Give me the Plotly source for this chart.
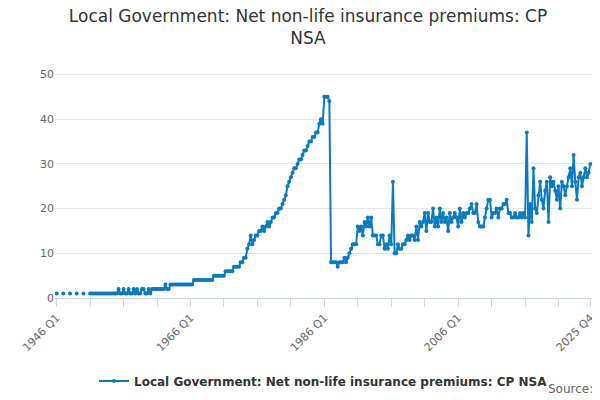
import plotly.graph_objects as go

years = list(range(1946, 2026))
quarters = ["Q1", "Q2", "Q3", "Q4"]

# quarterly values, one row per year (None = no data)
values = [
    1, None, None, None,  # 1946
    1, None, None, None,
    1, None, None, None,
    1, None, None, None,
    1, None, None, None,  # 1950
    1, 1, 1, 1,
    1, 1, 1, 1,
    1, 1, 1, 1,
    1, 1, 1, 1,
    1, 2, 1, 1,  # 1955
    2, 1, 1, 2,
    1, 1, 2, 1,
    2, 1, 1, 2,
    2, 1, 1, 2,
    1, 2, 2, 2,  # 1960
    2, 2, 2, 2,
    2, 3, 2, 2,
    3, 3, 3, 3,
    3, 3, 3, 3,
    3, 3, 3, 3,  # 1965
    3, 3, 4, 4,
    4, 4, 4, 4,
    4, 4, 4, 4,
    4, 4, 5, 5,
    5, 5, 5, 5,  # 1970
    5, 6, 6, 6,
    6, 6, 7, 7,
    7, 7, 8, 8,
    9, 9, 11, 12,
    14, 12, 13, 14,  # 1975
    14, 15, 15, 16,
    15, 16, 17, 16,
    17, 18, 18, 19,
    19, 20, 20, 21,
    22, 23, 25, 26,  # 1980
    27, 28, 29, 29,
    30, 31, 31, 32,
    33, 33, 34, 35,
    35, 36, 36, 37,
    37, 39, 40, 39,  # 1985
    45, 45, 45, 44,
    8, 8, 8, 8,
    7, 8, 8, 8,
    9, 8, 9, 10,
    11, 12, 12, 12,  # 1990
    16, 15, 16, 14,
    17, 16, 18, 16,
    18, 14, 14, 14,
    12, 12, 14, 14,
    11, 12, 11, 14,  # 1995
    12, 26, 10, 10,
    12, 11, 11, 12,
    12, 13, 14, 13,
    14, 14, 13, 16,
    13, 17, 16, 17,  # 2000
    19, 15, 19, 17,
    17, 20, 16, 18,
    16, 20, 17, 19,
    17, 18, 15, 19,
    17, 18, 19, 18,  # 2005
    16, 20, 17, 19,
    18, 19, 19, 20,
    21, 19, 19, 21,
    17, 16, 16, 16,
    18, 20, 22, 22,  # 2010
    18, 19, 19, 20,
    18, 20, 20, 21,
    21, 22, 19, 19,
    18, 18, 19, 18,
    18, 19, 18, 19,  # 2015
    18, 37, 14, 21,
    17, 29, 20, 19,
    23, 26, 22, 20,
    24, 26, 17, 27,
    25, 26, 24, 22,  # 2020
    25, 20, 26, 25,
    23, 25, 27, 29,
    25, 32, 26, 22,
    27, 28, 25, 27,
    29, 27, 28, 30,  # 2025
]

periods = [f"{y} {q}" for y in years for q in quarters]
tick_vals = [f"{y} Q1" for y in range(1946, 2026, 5)] + ["2025 Q4"]
labelled = ["1946 Q1", "1966 Q1", "1986 Q1", "2006 Q1", "2025 Q4"]
tick_text = [t if t in labelled else "" for t in tick_vals]

name = "Local Government: Net non-life insurance premiums: CP NSA"
blue = "#0b7bc1"

fig = go.Figure(go.Scatter(
    x=periods, y=values, mode="lines+markers", name=f"<b>{name}</b>",
    line=dict(color=blue, width=2), marker=dict(color=blue, size=4),
    connectgaps=False,
))

fig.update_layout(
    width=600, height=400,
    font=dict(family="DejaVu Sans", color="#555"),
    title=dict(text="Local Government: Net non-life insurance premiums: CP<br>NSA",
               x=0.5, xanchor="center", y=0.965, font=dict(size=17, color="#333")),
    plot_bgcolor="white", paper_bgcolor="white",
    margin=dict(l=30, r=15, t=62, b=103),
    showlegend=True,
    legend=dict(orientation="h", x=0.5, xanchor="center", y=-0.3,
                font=dict(size=12, color="#333")),
    xaxis=dict(type="category", tickvals=tick_vals, ticktext=tick_text,
               tickangle=-45, ticks="outside", ticklen=8, tickcolor="#ccd6eb",
               showgrid=False, showline=True, linecolor="#ccd6eb",
               tickfont=dict(size=11, color="#666"), range=[-1, len(periods)]),
    yaxis=dict(range=[0, 51], tickvals=[0, 10, 20, 30, 40, 50],
               gridcolor="#e6e6e6", zeroline=False,
               tickfont=dict(size=11, color="#666")),
    annotations=[dict(text="Source:", x=1, y=0, xref="paper", yref="paper",
                      xanchor="right", yanchor="bottom", yshift=-100, xshift=3,
                      showarrow=False, font=dict(size=12, color="#666"))],
)

fig.write_html("out.html")
